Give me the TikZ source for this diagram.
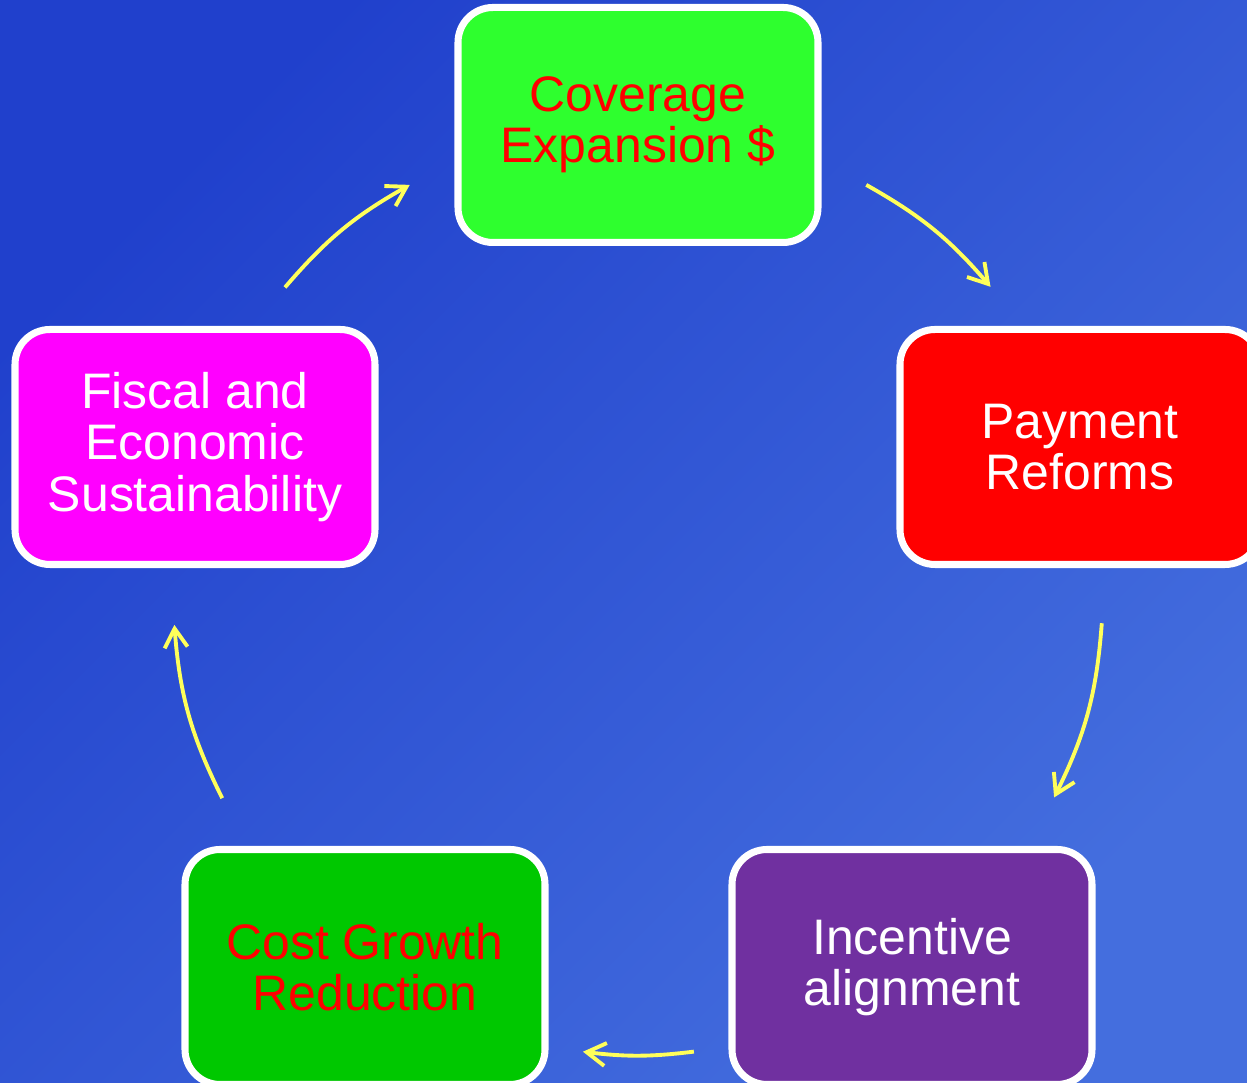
\documentclass[tikz,border=0pt]{standalone}
\usepackage{fontspec}
\setmainfont{Liberation Sans}
\usetikzlibrary{arrows.meta}
\definecolor{bgtop}{RGB}{32,64,204}
\definecolor{bgbot}{RGB}{68,110,222}
\definecolor{covgreen}{RGB}{46,255,46}
\definecolor{costgreen}{RGB}{0,200,0}
\definecolor{incpurple}{RGB}{112,48,160}
\definecolor{fismagenta}{RGB}{255,0,255}
\definecolor{payred}{RGB}{255,0,0}
\definecolor{arrowyellow}{RGB}{255,255,90}

\begin{document}
\begin{tikzpicture}
  [every node/.style={rounded corners=0.35cm,draw=white,line width=2pt,minimum width=3.6cm,minimum height=2.35cm,align=center,font=\fontsize{14.2}{14.6}\selectfont},
   cyc/.style={draw=arrowyellow,line width=1.1pt,-{Straight Barb[length=1.9mm,width=2.3mm]}}]
  \useasboundingbox (0,0) rectangle (12.47,10.83);
  \clip (0,0) rectangle (12.47,10.83);
  \shade[top color=bgtop,bottom color=bgbot,shading angle=45] (0,0) rectangle (12.47,10.83);

  \node[fill=covgreen,text=payred] (cov) at (6.38,9.58) {Coverage\\Expansion \$};
  \node[fill=payred,text=white] (pay) at (10.80,6.36) {Payment\\Reforms};
  \node[fill=incpurple,text=white] (inc) at (9.12,1.16) {Incentive\\alignment};
  \node[fill=costgreen,text=payred] (cost) at (3.65,1.16) {Cost Growth\\Reduction};
  \node[fill=fismagenta,text=white] (fis) at (1.95,6.36) {Fiscal and\\Economic\\Sustainability};

  \coordinate (c) at (6.38,4.93);
  \foreach \n/\a/\b/\h in {1/60.6/40.7/10, 2/-4.1/-26.5/11, 3/-83.1/-96.8/7, 4/-153.4/-175.7/11, 5/139.4/119.4/10}
  {
    \coordinate (s\n) at ([shift={(\a:4.65)}]c);
    \coordinate (e\n) at ([shift={(\b:4.65)}]c);
    \draw[cyc] (s\n) to[bend left=\h] (e\n);
  }

\end{tikzpicture}
\end{document}
